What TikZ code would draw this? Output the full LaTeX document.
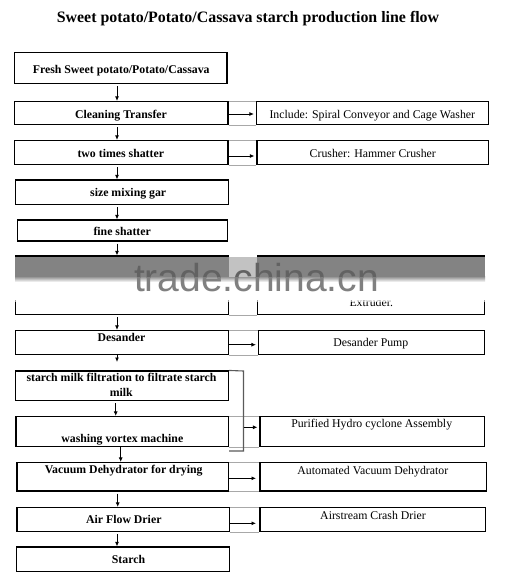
\documentclass[tikz,border=0pt]{standalone}
\usepackage{fontspec}
\setmainfont{Liberation Serif}
\newfontfamily\wmfont{Liberation Sans}
\usetikzlibrary{arrows.meta,fit,calc}
\definecolor{bandgray}{HTML}{838383}
\definecolor{gapgray}{HTML}{C2C2C2}
\definecolor{wmdark}{HTML}{626262}
\definecolor{wmlight}{HTML}{808080}
\definecolor{tiegray}{HTML}{A8A8A8}
\definecolor{brkgray}{HTML}{5A5A5A}
\begin{document}
\begin{tikzpicture}[x=1pt,y=-1pt,
  box/.style={draw=black, line width=1.1pt, inner sep=0pt},
  lt/.style={font=\fontsize{11.8}{13}\selectfont\bfseries, anchor=base, inner sep=0pt},
  rt/.style={font=\fontsize{11.8}{13}\selectfont, anchor=base, inner sep=0pt},
  arr/.style={-{Latex[length=4.5pt,width=4pt]}, line width=0.9pt},
  varr/.style={arr, shorten <=2pt},
  harr/.style={arr, shorten >=2pt},
  tie/.style={draw=tiegray, line width=0.8pt},
  brk/.style={draw=brkgray, line width=1.1pt},
  wm/.style={font=\wmfont\fontsize{39}{40}\selectfont, anchor=base, inner sep=0pt}]
\useasboundingbox[fill=white] (0,0) rectangle (512,586);

\node[font=\fontsize{15.9}{18}\selectfont\bfseries, anchor=base, inner sep=0pt] (title) at (248,22.5) {Sweet potato/Potato/Cassava starch production line flow};

% left boxes
\node[box, fit={(14.5,52.5) (227,83.5)}] (fresh) {};
\node[box, fit={(14.5,101.5) (228,124.5)}] (clean) {};
\node[box, fit={(14.5,140.5) (228,164.5)}] (two) {};
\node[box, fit={(15.5,180) (228.5,204.5)}] (size) {};
\node[box, fit={(17.5,220) (227.5,241)}] (fine) {};
\node[box, fit={(15.5,256) (228.5,314.5)}] (hid) {};
\node[box, fit={(15.5,330.5) (228.5,354.5)}] (des) {};
\node[box, fit={(15.5,371) (228.5,400.5)}] (sm) {};
\node[box, fit={(16,416.5) (228.5,446.5)}] (wash) {};
\node[box, fit={(17,462.5) (228.5,491)}] (vac) {};
\node[box, fit={(17,507.5) (229.5,531.5)}] (air) {};
\node[box, fit={(16.5,547) (229.5,571.5)}] (starch) {};

% right boxes
\node[box, fit={(256.5,101.5) (488.5,124.5)}] (cleanR) {};
\node[box, fit={(257,140.5) (488.5,164.5)}] (twoR) {};
\node[box, fit={(257.5,256) (484.5,314.5)}] (hidR) {};
\node[box, fit={(258.5,330.5) (484.5,354.5)}] (desR) {};
\node[box, fit={(260,416.5) (484.5,446.5)}] (purR) {};
\node[box, fit={(260,462.5) (486.5,491)}] (vacR) {};
\node[box, fit={(260,507.5) (485.5,531.5)}] (airR) {};

% gray table ties
\draw[tie] (clean.north east) -- (cleanR.north west);
\draw[tie] (clean.south east) -- (cleanR.south west);
\draw[tie] (two.north east) -- (twoR.north west);
\draw[tie] (two.south east) -- (twoR.south west);
\draw[tie] (hid.south east) -- (hidR.south west);
\draw[tie] (des.north east) -- (desR.north west);
\draw[tie] (des.south east) -- (desR.south west);
\draw[tie] (wash.north east) -- (purR.north west);
\draw[tie] (wash.south east) -- (purR.south west);
\draw[tie] (vac.north east) -- (vacR.north west);
\draw[tie] (vac.south east) -- (vacR.south west);
\draw[tie] (air.north east) -- (airR.north west);
\draw[tie] (air.south east) -- (airR.south west);

% labels
\node[lt] (tfresh) at (121.2,73.2) {Fresh Sweet potato/Potato/Cassava};
\node[lt] (tclean) at (121,118.3) {Cleaning Transfer};
\node[rt] (tcleanR) at (372.3,118.5) {Include: Spiral Conveyor and Cage Washer};
\node[lt] (ttwo) at (120.8,157.3) {two times shatter};
\node[rt] (ttwoR) at (372.8,157.3) {Crusher: Hammer Crusher};
\node[lt] (tsize) at (128.2,196.7) {size mixing gar};
\node[lt] (tfine) at (122.2,235) {fine shatter};
\node[rt] (thidR) at (371.3,306) {Extruder.};
\node[lt] (tdes) at (121.5,341.7) {Desander};
\node[rt] (tdesR) at (370.8,346.7) {Desander Pump};
\node[lt] (tsm1) at (121.5,381.7) {starch milk filtration to filtrate starch};
\node[lt] (tsm2) at (121.3,396) {milk};
\node[lt] (twash) at (122.3,442.3) {washing vortex machine};
\node[rt] (tpurR) at (371.7,427.7) {Purified Hydro cyclone Assembly};
\node[lt] (tvac) at (123.7,473.3) {Vacuum Dehydrator for drying};
\node[rt] (tvacR) at (372.8,474.3) {Automated Vacuum Dehydrator};
\node[lt] (tair) at (123.8,523.3) {Air Flow Drier};
\node[rt] (tairR) at (373,519.3) {Airstream Crash Drier};
\node[lt] (tstarch) at (128.5,563.3) {Starch};

% vertical arrows
\coordinate (vx) at (117,0);
\coordinate (vxa) at (115.7,0);
\coordinate (vxb) at (120.7,0);
\coordinate (vxc) at (117.7,0);
\coordinate (dEnd) at (117,362);
\draw[varr] (fresh.south -| vx) -- (clean.north -| vx);
\draw[varr] (clean.south -| vx) -- (two.north -| vx);
\draw[varr] (two.south -| vx) -- (size.north -| vx);
\draw[varr] (size.south -| vx) -- (fine.north -| vx);
\draw[varr] (fine.south -| vx) -- (hid.north -| vx);
\draw[varr] (hid.south -| vx) -- (des.north -| vx);
\draw[arr] (des.south -| vx) -- (dEnd);
\draw[varr] (sm.south -| vxa) -- (wash.north -| vxa);
\draw[arr] (wash.south -| vxb) -- (vac.north -| vxb);
\draw[varr] (vac.south -| vxc) -- (air.north -| vxc);
\draw[varr] (air.south -| vx) -- (starch.north -| vx);

% horizontal arrows
\coordinate (h1) at (0,114);
\coordinate (h2) at (0,156);
\coordinate (h3) at (0,344.7);
\coordinate (h5a) at (256,478.3);
\coordinate (h6a) at (256,523.3);
\draw[harr] (clean.east |- h1) -- (cleanR.west |- h1);
\draw[harr] (two.east |- h2) -- (twoR.west |- h2);
\draw[harr] (des.east |- h3) -- (desR.west |- h3);
\draw[arr] (vac.east |- h5a) -- (h5a);
\draw[arr] (air.east |- h6a) -- (h6a);

% bracket to hydro cyclone
\coordinate (bkt) at (243.5,371);
\coordinate (bkb) at (243.5,451);
\coordinate (bke) at (229,451);
\coordinate (bka) at (243.5,427.3);
\draw[brk] (sm.north east) -- (bkt) -- (bkb) -- (bke);
\draw[harr] (bka) -- (purR.west |- bka);

% watermark band
\fill[white] (13,278) rectangle (487,300);
\fill[white, opacity=0.6] (13,300) rectangle (487,302);
\fill[bandgray] (15,256.8) rectangle (485,276);
\shade[top color=bandgray, bottom color=white] (15,276) rectangle (485,282);
\fill[gapgray] (229,256.8) rectangle (257,277);
\begin{scope}
  \clip (0,250) rectangle (512,277);
  \node[wm, text=wmdark] (wm1) at (256.5,291.7) {trade.china.cn};
\end{scope}
\begin{scope}
  \clip (0,277) rectangle (512,300);
  \node[wm, text=wmlight] (wm2) at (256.5,291.7) {trade.china.cn};
\end{scope}
\end{tikzpicture}
\end{document}
